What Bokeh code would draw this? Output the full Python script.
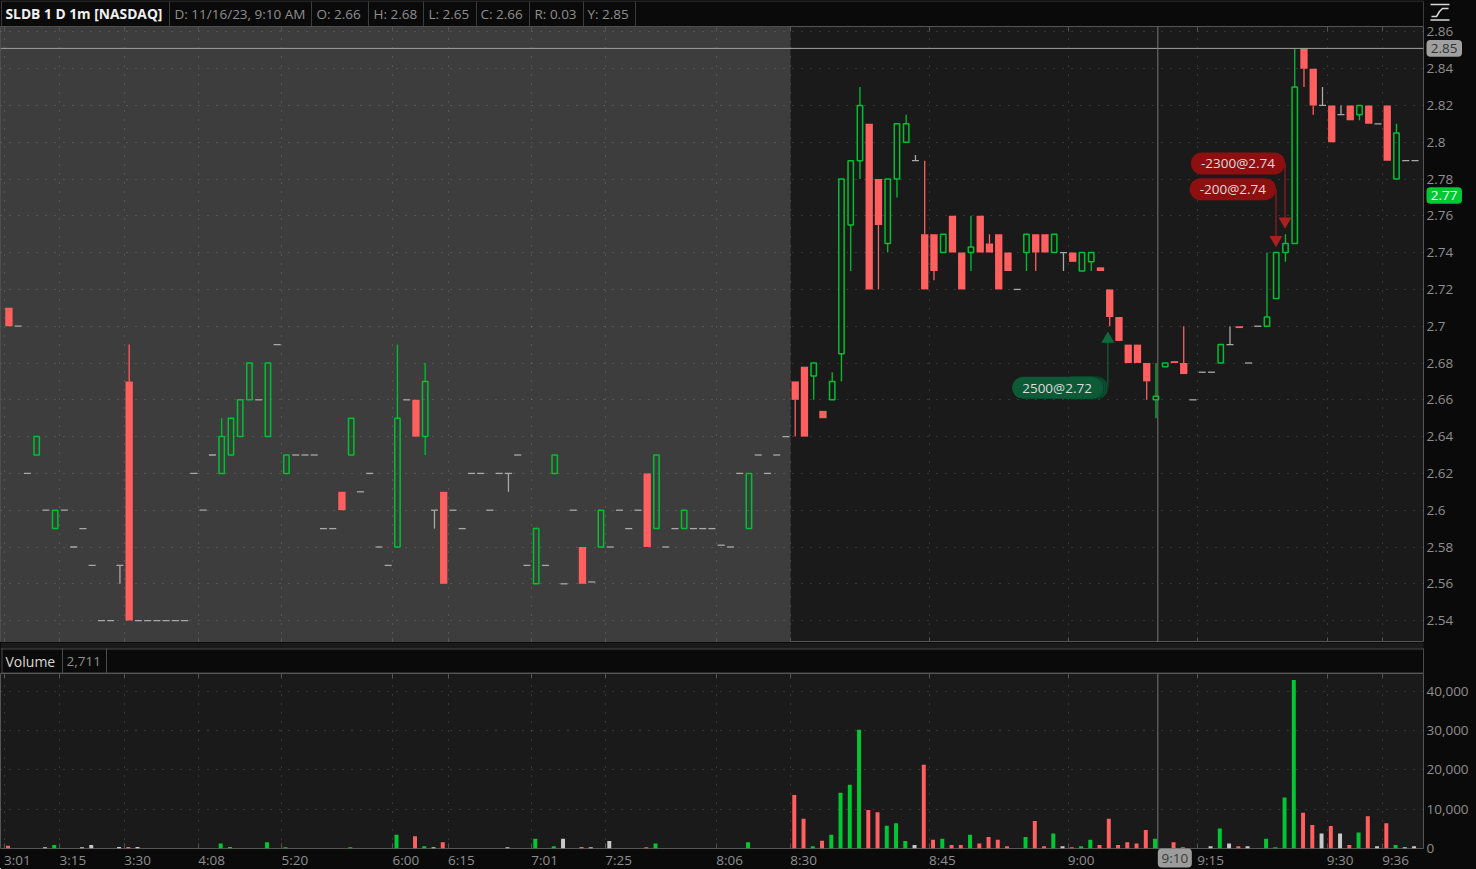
from bokeh.core.properties import value
from bokeh.embed import file_html
from bokeh.layouts import column
from bokeh.models import (ColumnDataSource, FixedTicker, Label, LinearAxis, Span,
                          NumeralTickFormatter, BoxAnnotation)
from bokeh.plotting import figure
from bokeh.resources import INLINE

FONT = "Open Sans"

# ---- one-minute bars ---------------------------------------------------------------
bar_open = [
    2.71, 2.70, 2.62, 2.63, 2.60, 2.59, 2.60, 2.58, 2.59, 2.57,
    2.54, 2.54, 2.57, 2.67, 2.54, 2.54, 2.54, 2.54, 2.54, 2.54,
    2.62, 2.60, 2.63, 2.62, 2.63, 2.64, 2.66, 2.66, 2.64, 2.69,
    2.62, 2.63, 2.63, 2.63, 2.59, 2.59, 2.61, 2.63, 2.61, 2.62,
    2.58, 2.57, 2.58, 2.66, 2.66, 2.64, 2.60, 2.61, 2.60, 2.59,
    2.62, 2.62, 2.60, 2.62, 2.62, 2.63, 2.57, 2.56, 2.57, 2.62,
    2.56, 2.60, 2.58, 2.561, 2.58, 2.58, 2.60, 2.59, 2.60, 2.62,
    2.59, 2.58, 2.59, 2.59, 2.59, 2.59, 2.59, 2.581, 2.58, 2.62,
    2.59, 2.63, 2.62, 2.63, 2.64, 2.67, 2.678, 2.673, 2.654, 2.66,
    2.685, 2.755, 2.79, 2.81, 2.78, 2.745, 2.78, 2.80, 2.79, 2.75,
    2.75, 2.74, 2.76, 2.74, 2.74, 2.76, 2.745, 2.75, 2.74, 2.72,
    2.74, 2.75, 2.75, 2.74, 2.74, 2.74, 2.73, 2.735, 2.732, 2.72,
    2.705, 2.69, 2.69, 2.68, 2.66, 2.678, 2.681, 2.68, 2.66, 2.675,
    2.675, 2.68, 2.69, 2.70, 2.68, 2.70, 2.70, 2.715, 2.74, 2.745,
    2.851, 2.84, 2.82, 2.82, 2.815, 2.82, 2.815, 2.82, 2.81, 2.82,
    2.78, 2.79, 2.79,
]
bar_close = [
    2.70, 2.70, 2.62, 2.64, 2.60, 2.60, 2.60, 2.58, 2.59, 2.57,
    2.54, 2.54, 2.57, 2.54, 2.54, 2.54, 2.54, 2.54, 2.54, 2.54,
    2.62, 2.60, 2.63, 2.64, 2.65, 2.66, 2.68, 2.66, 2.68, 2.69,
    2.63, 2.63, 2.63, 2.63, 2.59, 2.59, 2.60, 2.65, 2.61, 2.62,
    2.58, 2.57, 2.65, 2.66, 2.64, 2.67, 2.60, 2.56, 2.60, 2.59,
    2.62, 2.62, 2.60, 2.62, 2.62, 2.63, 2.57, 2.59, 2.57, 2.63,
    2.56, 2.60, 2.56, 2.561, 2.60, 2.58, 2.60, 2.59, 2.60, 2.58,
    2.63, 2.58, 2.59, 2.60, 2.59, 2.59, 2.59, 2.581, 2.58, 2.62,
    2.62, 2.63, 2.62, 2.63, 2.64, 2.66, 2.64, 2.68, 2.65, 2.67,
    2.78, 2.79, 2.82, 2.72, 2.755, 2.78, 2.81, 2.81, 2.79, 2.72,
    2.73, 2.75, 2.74, 2.72, 2.743, 2.74, 2.74, 2.72, 2.73, 2.72,
    2.75, 2.74, 2.74, 2.75, 2.74, 2.735, 2.74, 2.74, 2.73, 2.705,
    2.692, 2.68, 2.68, 2.67, 2.662, 2.68, 2.68, 2.674, 2.66, 2.675,
    2.675, 2.69, 2.69, 2.699, 2.68, 2.70, 2.705, 2.74, 2.745, 2.83,
    2.84, 2.82, 2.82, 2.80, 2.815, 2.812, 2.82, 2.81, 2.81, 2.79,
    2.805, 2.79, 2.79,
]
wick_high = {13: 2.69, 23: 2.65, 42: 2.69, 45: 2.68, 89: 2.675, 92: 2.83, 97: 2.815,
             98: 2.793, 99: 2.79, 104: 2.76, 106: 2.75, 124: 2.68, 127: 2.70, 132: 2.70,
             136: 2.74, 138: 2.75, 139: 2.851, 142: 2.83, 144: 2.82, 150: 2.81}
wick_low = {12: 2.56, 45: 2.63, 46: 2.59, 54: 2.61, 85: 2.64, 87: 2.66, 90: 2.67, 91: 2.73,
            92: 2.78, 94: 2.72, 95: 2.74, 96: 2.77, 100: 2.725, 104: 2.73, 110: 2.73,
            111: 2.73, 114: 2.73, 117: 2.73, 119: 2.70, 123: 2.66, 124: 2.65, 138: 2.735,
            140: 2.83, 141: 2.815, 146: 2.812}
bar_volume = [
    700, 0, 0, 0, 300, 900, 0, 0, 300, 900,
    0, 0, 400, 400, 400, 0, 0, 0, 0, 0,
    0, 0, 0, 1300, 400, 0, 0, 0, 1600, 0,
    300, 0, 0, 0, 0, 0, 0, 300, 0, 0,
    0, 0, 3500, 0, 3100, 600, 300, 1600, 0, 0,
    0, 0, 0, 0, 300, 0, 0, 2500, 0, 600,
    2500, 0, 400, 300, 0, 1900, 0, 0, 0, 300,
    1300, 0, 0, 0, 0, 0, 0, 0, 0, 0,
    1600, 0, 0, 0, 0, 13600, 7600, 600, 2000, 3500,
    14200, 16200, 30200, 9800, 9200, 5800, 6400, 1900, 900, 21300,
    2200, 2500, 900, 900, 3500, 1300, 2900, 2200, 600, 0,
    2900, 7000, 600, 3800, 600, 300, 600, 2200, 900, 7600,
    900, 1600, 1300, 4700, 2500, 0, 1600, 300, 0, 0,
    600, 5100, 1300, 600, 600, 0, 2500, 300, 13000, 42900,
    9100, 6000, 3800, 5700, 3800, 900, 4100, 8200, 600, 6400,
    900, 300, 600,
]

# ---- axes ---------------------------------------------------------------------------
time_labels = ["3:01", "3:15", "3:30", "4:08", "5:20", "6:00", "6:15", "7:01", "7:25",
               "8:06", "8:30", "8:45", "9:00", "9:15", "9:30", "9:36"]
time_ticks = [-0.5, 5.5, 12.5, 20.5, 29.5, 41.5, 47.5, 56.5, 64.5,
              76.5, 84.5, 99.5, 114.5, 128.5, 142.5, 148.5]
price_ticks = [2.54, 2.56, 2.58, 2.60, 2.62, 2.64, 2.66, 2.68, 2.70, 2.72, 2.74, 2.76, 2.78,
               2.80, 2.82, 2.84, 2.86]
volume_ticks = [0, 10000, 20000, 30000, 40000]

# ---- annotations --------------------------------------------------------------------
header_cells = ["D: 11/16/23, 9:10 AM", "O: 2.66", "H: 2.68", "L: 2.65", "C: 2.66", "R: 0.03", "Y: 2.85"]
header_title = "SLDB 1 D 1m [NASDAQ]"
cursor_bar = 124.2
cursor_price = 2.851
cursor_time = "9:10"
last_price = 2.771
regular_session_bar = 84.5
trades = [
    # text, bar, marker price, pill price, fill colour, marker colour, marker, ghost outlines
    ("2500@2.72", 118.8, 2.693, 2.6665, "#0c5a36", "#12693e", "triangle", 3),
    ("-2300@2.74", 137.95, 2.757, 2.7885, "#8e0f0f", "#a82020", "inverted_triangle", 0),
    ("-200@2.74", 136.97, 2.747, 2.7745, "#8e0f0f", "#a82020", "inverted_triangle", 0),
]

# ---- styles -------------------------------------------------------------------------
BG = "#0a0a0a"
PANEL = "#1a1a1a"
SHADE = "#3d3d3d"
EDGE = "#555555"
TEXT = "#8f8f8f"
UP = "#00c030"
DOWN = "#ff5f5f"
FLAT = "#a8a8a8"
FS = "13.5px"
X_RANGE = (-0.91, 152.92)
Y_RANGE = (2.5281, 2.8629)
BAR_PX = 1423 / (X_RANGE[1] - X_RANGE[0])
LABEL_SHIFT = 13 / BAR_PX


def tick_axis():
    return LinearAxis(ticker=FixedTicker(ticks=time_ticks), axis_line_color=None,
                      major_tick_in=5, major_tick_out=0, minor_tick_line_color=None,
                      major_tick_line_color=EDGE, major_label_text_font_size="0px",
                      major_label_text_color=None, major_label_standoff=0)


def style_panel(p):
    p.xgrid.ticker = FixedTicker(ticks=time_ticks)
    for g in (p.xgrid, p.ygrid):
        g.grid_line_color = "#ffffff"
        g.grid_line_alpha = 0.25
        g.grid_line_dash = "1 8"
        g.grid_line_width = 1
    ax = p.yaxis[0]
    ax.axis_line_color = None
    ax.major_tick_in = 0
    ax.major_tick_out = 0
    ax.major_tick_line_color = None
    ax.minor_tick_line_color = None
    ax.major_label_text_color = TEXT
    ax.major_label_text_font = FONT
    ax.major_label_text_font_size = FS
    ax.major_label_standoff = 3


def make_strip(width, height, x_range, y_range, transparent=False):
    s = figure(width=width, height=height, frame_width=width, frame_height=height,
               x_range=x_range, y_range=y_range,
               x_axis_type=None, y_axis_type=None, toolbar_location=None,
               output_backend="svg", min_border=0, min_border_left=0, min_border_right=0,
               min_border_top=0, min_border_bottom=0, background_fill_color=BG,
               border_fill_color=BG, outline_line_color=None)
    if transparent:
        s.background_fill_alpha = 0
        s.border_fill_alpha = 0
    s.xgrid.visible = False
    s.ygrid.visible = False
    return s


def strip_text(s, x, y, text, color, style="normal", size=FS):
    s.text(x=x, y=y, text=[text], text_color=color, text_font=value(FONT),
           text_font_size=size, text_font_style=style, text_baseline="middle", text_align="left")


# ---- header -------------------------------------------------------------------------
head = make_strip(1476, 26, (0, 1476), (26, 0))
head.segment(x0=[1, 169, 311, 368, 423, 476, 529, 583, 635, 1423],
             x1=[1, 169, 311, 368, 423, 476, 529, 583, 635, 1423],
             y0=[1] * 10, y1=[26] * 10, line_color="#3c3c3c", line_width=1)
head.segment(x0=[0], x1=[1423], y0=[0.5], y1=[0.5], line_color="#3c3c3c", line_width=1)
strip_text(head, 5, 13, header_title, "#f0f0f0", style="bold", size="13.8px")
for x, t in zip([174, 316, 373, 428, 480, 534, 587], header_cells):
    strip_text(head, x, 13, t, TEXT)
head.line(x=[1430, 1449], y=[4, 4], line_color="#d8d8d8", line_width=1.5)
head.line(x=[1430, 1449], y=[19.5, 19.5], line_color="#d8d8d8", line_width=1.5)
head.line(x=[1431, 1436, 1439, 1442, 1448], y=[16, 16, 11, 8, 8], line_color="#d8d8d8", line_width=1.5)

# ---- prices -------------------------------------------------------------------------
price = figure(width=1476, height=622, frame_width=1423, frame_height=616, x_range=X_RANGE,
               y_range=Y_RANGE, y_axis_location="right", toolbar_location=None,
               output_backend="svg", min_border=0, min_border_left=0, min_border_top=6,
               min_border_bottom=0, min_border_right=53,
               background_fill_color=PANEL, border_fill_color=BG, border_fill_alpha=0,
               outline_line_color=EDGE)
price.margin = (-6, 0, 0, 0)
price.below[0].visible = False
price.add_layout(tick_axis(), "above")
price.add_layout(tick_axis(), "below")
style_panel(price)
price.yaxis[0].ticker = FixedTicker(ticks=price_ticks)
price.yaxis[0].formatter = NumeralTickFormatter(format="0.0[0]")
price.add_layout(BoxAnnotation(right=regular_session_bar, fill_color=SHADE, fill_alpha=1,
                               line_color=None, level="image"))

idx = list(range(len(bar_open)))
ups = [i for i in idx if bar_close[i] > bar_open[i]]
downs = [i for i in idx if bar_close[i] < bar_open[i]]
flats = [i for i in idx if bar_close[i] == bar_open[i]]


def wicks(group):
    xs, y0, y1 = [], [], []
    for i in group:
        top, bot = max(bar_open[i], bar_close[i]), min(bar_open[i], bar_close[i])
        if i in wick_high:
            xs.append(i); y0.append(top); y1.append(wick_high[i])
        if i in wick_low:
            xs.append(i); y0.append(bot); y1.append(wick_low[i])
    return dict(x=xs, y0=y0, y1=y1)


for group, color in ((ups, UP), (downs, DOWN), (flats, FLAT)):
    price.segment(x0="x", x1="x", y0="y0", y1="y1", source=ColumnDataSource(wicks(group)),
                  line_color=color, line_width=1.3)
price.vbar(x=downs, width=0.79, top=[bar_open[i] for i in downs], bottom=[bar_close[i] for i in downs],
           fill_color=DOWN, line_color=None)
price.vbar(x=ups, width=0.58, top=[bar_close[i] for i in ups], bottom=[bar_open[i] for i in ups],
           fill_color=None, line_color=UP, line_width=1.5)
price.segment(x0=[i - 0.38 for i in flats], x1=[i + 0.38 for i in flats],
              y0=[bar_close[i] for i in flats], y1=[bar_close[i] for i in flats],
              line_color=FLAT, line_width=1.3)

for text, bar, mark, pill, fill, mcolor, marker, ghosts in trades:
    price.segment(x0=[bar], x1=[bar], y0=[mark], y1=[pill], line_color=mcolor, line_width=1)
    price.scatter(x=[bar], y=[mark], marker=marker, size=13, fill_color=mcolor, line_color=None)
    for g in range(ghosts):
        price.quad(left=[bar - 5], right=[bar - g * 2 / BAR_PX], top=[pill + 0.006], bottom=[pill - 0.006],
                   border_radius=11, fill_color=fill, line_color="#0a3a24", line_width=1)
    price.add_layout(Label(x=bar - ghosts * 2 / BAR_PX, y=pill, text=text, text_align="right",
                           text_baseline="middle", text_color="#dcdcdc", text_font=FONT,
                           text_font_size=FS, background_fill_color=fill, background_fill_alpha=1,
                           padding=(10, 2), border_radius=11))

price.add_layout(Span(location=cursor_price, dimension="width", line_color="#a0a0a0", line_width=1))
price.add_layout(Span(location=cursor_bar, dimension="height", line_color="#777777", line_width=1))

# price flags in the right-hand gutter: a transparent strip over the axis, on the same price scale
flags = make_strip(53, 616, (0, 53), Y_RANGE, transparent=True)
flags.margin = (-616, 0, 0, 1423)
for level, text, fill, ink in ((cursor_price, "2.85", "#a0a0a0", "#333333"),
                               (last_price, "2.77", "#00c832", "#ffffff")):
    flags.quad(left=[3], right=[38.5], top=[level + 0.0045], bottom=[level - 0.0045], border_radius=4,
               fill_color=fill, line_color=None)
    flags.text(x=[20.7], y=[level], text=[text], text_color=ink, text_font=value(FONT),
               text_font_size=FS, text_align="center", text_baseline="middle")

# ---- strip between the panels -------------------------------------------------------
strip = make_strip(1476, 31, (0, 1476), (31, 0))
strip.quad(left=[0], right=[1423], top=[0], bottom=[6], fill_color=PANEL, line_color=None)
strip.segment(x0=[0, 0], x1=[1423, 1423], y0=[6.5, 30.5], y1=[6.5, 30.5], line_color="#4a4a4a", line_width=1)
strip.segment(x0=[1.5, 62, 106, 1423], x1=[1.5, 62, 106, 1423], y0=[6] * 4, y1=[31] * 4,
              line_color="#4a4a4a", line_width=1)
strip_text(strip, 5, 18.5, "Volume", "#d8d8d8", size="14px")
strip_text(strip, 66, 18.5, "2,711", TEXT)

# ---- volume -------------------------------------------------------------------------
vol = figure(width=1476, height=196, frame_width=1423, frame_height=175, x_range=X_RANGE,
             y_range=(0, 44530), y_axis_location="right", toolbar_location=None,
             output_backend="svg", min_border=0, min_border_left=0, min_border_top=0,
             min_border_right=53, min_border_bottom=21,
             background_fill_color=PANEL, border_fill_color=BG, outline_line_color=EDGE)
style_panel(vol)
vol.yaxis[0].ticker = FixedTicker(ticks=volume_ticks)
vol.yaxis[0].formatter = NumeralTickFormatter(format="0,0")
label_ticks = [t + LABEL_SHIFT for t in time_ticks]
xax = vol.below[0]
xax.ticker = FixedTicker(ticks=label_ticks)
xax.major_label_overrides = dict(zip(label_ticks, time_labels))
xax.axis_line_color = None
xax.major_tick_in = 0
xax.major_tick_out = 0
xax.major_tick_line_color = None
xax.minor_tick_line_color = None
xax.major_label_text_color = TEXT
xax.major_label_text_font = FONT
xax.major_label_text_font_size = FS
xax.major_label_standoff = 2
vol.below = [tick_axis(), xax]
vol.add_layout(tick_axis(), "above")

for group, color in ((ups, "#00c832"), (downs, DOWN), (flats, "#c8c8c8")):
    shown = [i for i in group if bar_volume[i] > 0]
    vol.vbar(x=[i - 0.1 for i in shown], width=0.43, top=[bar_volume[i] for i in shown], bottom=0,
             fill_color=color, line_color=None)

vol.add_layout(Span(location=cursor_bar, dimension="height", line_color="#777777", line_width=1))

# cursor time flag under the volume panel, on the same bar scale
stamp = make_strip(1423, 21, X_RANGE, (21, 0), transparent=True)
stamp.margin = (-24, 0, 0, 0)
stamp.quad(left=[cursor_bar], right=[cursor_bar + 34 / BAR_PX], top=[1], bottom=[20], border_radius=4,
           fill_color="#9c9c9c", line_color=None)
stamp.text(x=[cursor_bar + 17 / BAR_PX], y=[10.5], text=[cursor_time], text_color="#3a3a3a",
           text_font=value(FONT), text_font_size=FS, text_align="center", text_baseline="middle")

page = column(head, price, flags, strip, vol, stamp, spacing=0)
page.styles = {"background": BG}
open("out.html", "w").write(file_html(page, INLINE))
